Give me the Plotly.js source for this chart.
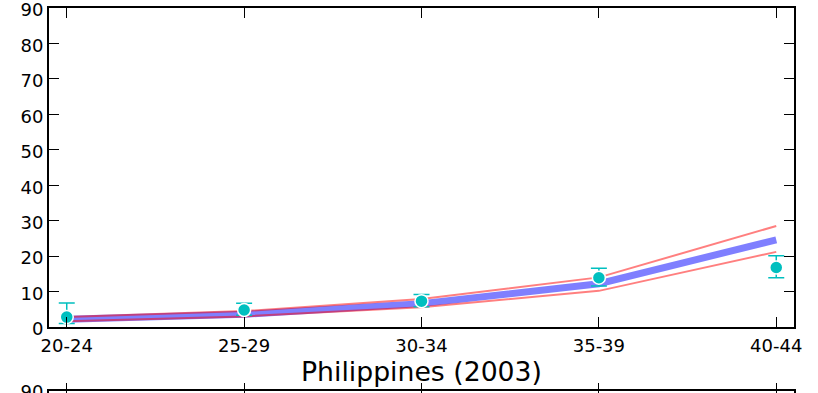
<!DOCTYPE html>
<html>
<head>
<meta charset="utf-8">
<script src="https://cdn.plot.ly/plotly-3.0.1.min.js"></script>
<style>
html,body{margin:0;padding:0;background:#fff;overflow:hidden;}
#chart{width:818px;height:393px;}
</style>
</head>
<body>
<div id="chart"></div>
<script>
// Data
var ageGroups = ["20-24", "25-29", "30-34", "35-39", "40-44"];
var modelMean = [2.2, 3.6, 6.6, 12.2, 24.6];
var modelUpper = [2.8, 4.5, 7.9, 14.0, 28.5];
var modelLower = [1.6, 3.0, 5.6, 10.2, 21.2];
var observed = [2.8, 4.8, 7.3, 13.9, 16.8];
var observedHigh = [6.8, 6.7, 9.2, 16.6, 20.1];
var observedLow = [1.0, 3.3, 5.7, 11.6, 13.9];
var yTicks = [0, 10, 20, 30, 40, 50, 60, 70, 80, 90];
var xTitle = "Philippines (2003)";

var errPlus = observed.map(function(v, i){ return observedHigh[i] - v; });
var errMinus = observed.map(function(v, i){ return v - observedLow[i]; });

var font = {family: "DejaVu Sans", size: 18, color: "#000"};

var traces = [
  {x: ageGroups, y: modelMean, type: "scatter", mode: "lines",
   line: {color: "rgba(0,0,255,0.5)", width: 7}, hoverinfo: "skip"},
  {x: ageGroups, y: modelUpper, type: "scatter", mode: "lines",
   line: {color: "rgba(255,0,0,0.5)", width: 2}, hoverinfo: "skip"},
  {x: ageGroups, y: modelLower, type: "scatter", mode: "lines",
   line: {color: "rgba(255,0,0,0.5)", width: 2}, hoverinfo: "skip"},
  {x: ageGroups, y: observed, type: "scatter", mode: "markers",
   marker: {color: "#00bfbf", size: 13, line: {color: "#fff", width: 1.5}},
   error_y: {type: "data", symmetric: false, array: errPlus, arrayminus: errMinus,
             color: "#00bfbf", thickness: 1.5, width: 8}},
  {x: ageGroups, y: [null, null, null, null, null], xaxis: "x2", yaxis: "y2",
   type: "scatter", mode: "lines", showlegend: false}
];

var axisCommon = {
  showline: true, linecolor: "#000", linewidth: 2, mirror: "ticks",
  ticks: "inside", ticklen: 10, tickwidth: 1.2, tickcolor: "#000",
  showgrid: false, zeroline: false, tickfont: font,
  ticklabeloverflow: "allow"
};

var layout = {
  width: 818, height: 393,
  margin: {l: 49, r: 24, t: 8, b: 0},
  paper_bgcolor: "#fff", plot_bgcolor: "#fff",
  showlegend: false,
  font: font,
  xaxis: Object.assign({}, axisCommon, {
    type: "category", range: [-0.1, 4.1], anchor: "y",
    ticklabelstandoff: 1,
    title: {text: xTitle, font: {family: "DejaVu Sans", size: 26.7, color: "#000"}, standoff: 1}
  }),
  yaxis: Object.assign({}, axisCommon, {
    range: [0, 90], domain: [0.1714, 1], tickvals: yTicks, anchor: "x",
    ticklabelshift: 2
  }),
  xaxis2: Object.assign({}, axisCommon, {
    type: "category", range: [-0.1, 4.1], anchor: "y2", showticklabels: false
  }),
  yaxis2: Object.assign({}, axisCommon, {
    range: [0, 90], domain: [0, 0.004], tickvals: [90], anchor: "x2"
  })
};

Plotly.newPlot("chart", traces, layout, {displayModeBar: false, staticPlot: true});
</script>
</body>
</html>
